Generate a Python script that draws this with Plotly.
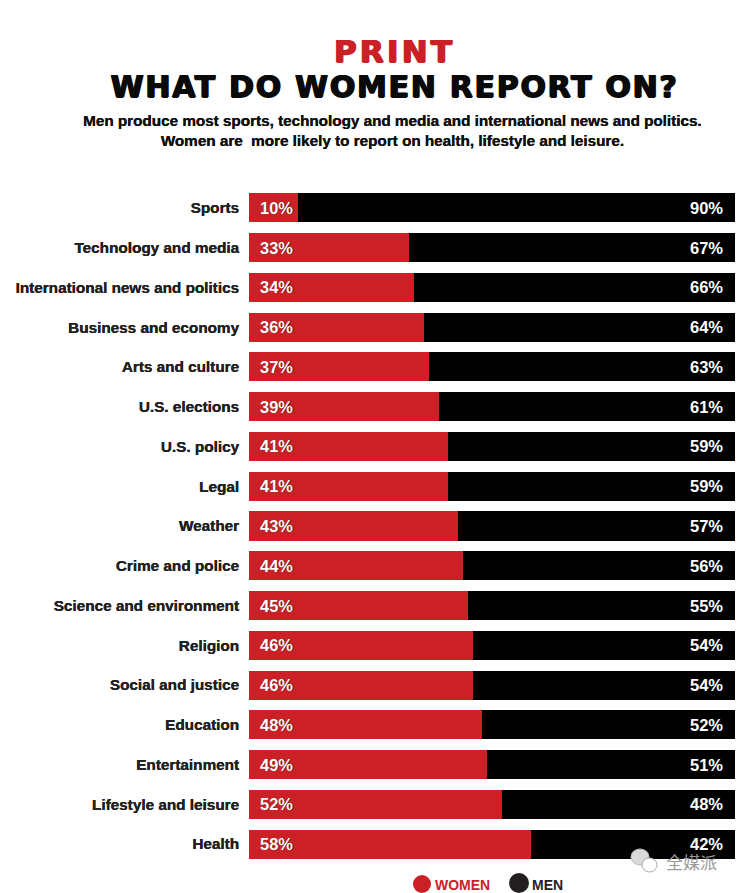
import plotly.graph_objects as go

# print: who reports on what, share of bylines in %
topics = ["Sports", "Technology and media", "International news and politics",
          "Business and economy", "Arts and culture", "U.S. elections", "U.S. policy",
          "Legal", "Weather", "Crime and police", "Science and environment", "Religion",
          "Social and justice", "Education", "Entertainment", "Lifestyle and leisure", "Health"]
women = [10, 33, 34, 36, 37, 39, 41, 41, 43, 44, 45, 46, 46, 48, 49, 52, 58]
men = [90, 67, 66, 64, 63, 61, 59, 59, 57, 56, 55, 54, 54, 52, 51, 48, 42]

RED = "#cc2027"
BLACK = "#000000"
SANS = "Liberation Sans"
SEMI = "0.3px 0 0 currentColor"

W, H = 741, 893
L, R, T, B = 249, 6, 188, 29


# heavier look for the headings, the original uses a black weight face
def heavy(color):
    return f"0.8px 0 0 {color}, -0.8px 0 0 {color}, 0 0.5px 0 {color}"


# pixel position in the picture -> paper fraction
def px(x):
    return (x - L) / (W - L - R)


def py(y):
    return 1 - (y - T) / (H - T - B)


fig = go.Figure()
fig.add_trace(go.Bar(y=topics, x=women, name="WOMEN", orientation="h",
                     marker=dict(color=RED, line=dict(width=0)), hoverinfo="x+y"))
fig.add_trace(go.Bar(y=topics, x=men, name="MEN", orientation="h",
                     marker=dict(color=BLACK, line=dict(width=0)), hoverinfo="x+y"))

notes = []
for t, w, m in zip(topics, women, men):
    notes.append(dict(x=0, y=t, text=f"<b>{w}%</b>", xref="x", yref="y", showarrow=False,
                      xanchor="left", xshift=9,
                      font=dict(family=SANS, size=16.5, color="white", shadow=SEMI)))
    notes.append(dict(x=100, y=t, text=f"<b>{m}%</b>", xref="x", yref="y", showarrow=False,
                      xanchor="right", xshift=-10,
                      font=dict(family=SANS, size=16.5, color="white", shadow=SEMI)))


def page_text(x, y, text, size, color, family=SANS, shadow="none", anchor="center"):
    notes.append(dict(x=px(x), y=py(y), text=text, xref="paper", yref="paper", showarrow=False,
                      xanchor=anchor, yanchor="middle", align="center",
                      font=dict(family=family, size=size, color=color, shadow=shadow)))


page_text(394, 51, "<b>PRINT</b>", 31, RED, "DejaVu Sans", heavy(RED))
page_text(394, 86, "<b>WHAT DO WOMEN REPORT ON?</b>", 30, "#0a0a0a", "DejaVu Sans", heavy("#0a0a0a"))
page_text(392, 131, "<b>Men produce most sports, technology and media and international news and politics.<br>"
                    "Women are  more likely to report on health, lifestyle and leisure.</b>",
          15.25, "#111111", shadow=SEMI)

# legend, round swatches cut by the bottom of the page
page_text(433, 885, "<b>WOMEN</b>", 14, RED, anchor="left")
page_text(530, 885, "<b>MEN</b>", 14, "#231f20", anchor="left")
swatches = [
    dict(type="circle", xref="paper", yref="paper", x0=px(413), x1=px(431), y0=py(875), y1=py(893),
         fillcolor=RED, line_width=0),
    dict(type="circle", xref="paper", yref="paper", x0=px(509), x1=px(529), y0=py(873), y1=py(893),
         fillcolor="#231f20", line_width=0),
]

# watermark
page_text(691, 861, "全媒派", 17, "#9a9a9a", "Noto Sans CJK SC")
wechat = [
    dict(type="circle", xref="paper", yref="paper", x0=px(631), x1=px(649), y0=py(849), y1=py(865),
         fillcolor="#d9d9d9", line=dict(color="#bbbbbb", width=1)),
    dict(type="circle", xref="paper", yref="paper", x0=px(642), x1=px(657), y0=py(858), y1=py(872),
         fillcolor="white", line=dict(color="#aaaaaa", width=1)),
]

fig.update_layout(
    width=W, height=H, barmode="stack", bargap=0.27,
    margin=dict(l=L, r=R, t=T, b=B),
    paper_bgcolor="white", plot_bgcolor="white",
    annotations=notes, shapes=swatches + wechat,
    showlegend=False,
)
fig.update_xaxes(range=[0, 100], visible=False, fixedrange=True)
fig.update_yaxes(categoryorder="array", categoryarray=topics, autorange=False, range=[16.5, -0.5],
                 ticks="outside", ticklen=6, tickcolor="rgba(0,0,0,0)", showline=False, showgrid=False,
                 tickfont=dict(family=SANS, size=15.3, color="#222222", shadow=SEMI), fixedrange=True,
                 tickmode="array", tickvals=topics, ticktext=[f"<b>{t}</b>" for t in topics])

# page default has an 8px body margin, drop it so the figure fills the window
# headings are expanded in the original: no font option for that, so set letter-spacing on the svg text
post = """
document.body.style.margin='0';document.body.style.overflow='hidden';
document.querySelectorAll('.annotation-text').forEach(function(t){
  if(t.textContent==='PRINT'){t.style.letterSpacing='3.2px';}
  if(t.textContent.indexOf('WHAT DO')===0){t.style.letterSpacing='1.7px';}
});
"""
fig.write_html("out.html", post_script=post, config=dict(displayModeBar=False))
